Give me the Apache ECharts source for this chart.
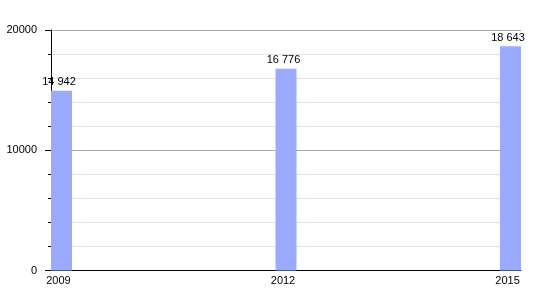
<!DOCTYPE html>
<html>
<head>
<meta charset="utf-8">
<script src="https://cdn.jsdelivr.net/npm/echarts@6/dist/echarts.min.js"></script>
<style>
html,body{margin:0;padding:0;background:#fff;}
#c{width:550px;height:300px;}
</style>
</head>
<body>
<div id="c"></div>
<script>
const years = [2009, 2012, 2015];
const values = [14942, 16776, 18643];
const yTicks = [0, 10000, 20000];

const chart = echarts.init(document.getElementById('c'), null, {renderer: 'canvas'});
const fmt = v => String(v).replace(/\B(?=(\d{3})+(?!\d))/g, '\u00a0');
const font = 'Liberation Sans, Arial, sans-serif';

chart.setOption({
  animation: false,
  grid: {left: 51, right: 29, top: 30, bottom: 29.5, containLabel: false},
  xAxis: {
    type: 'value',
    min: 2008.86,
    max: 2015.14,
    axisLine: {show: true, lineStyle: {color: '#000', width: 1}},
    axisTick: {show: false},
    splitLine: {show: false},
    axisLabel: {
      customValues: years,
      formatter: v => String(v),
      color: '#000',
      fontFamily: font,
      fontSize: 11,
      margin: 5,
      padding: [0, 6, 0, 0]
    }
  },
  yAxis: {
    type: 'value',
    min: 0,
    max: 20000,
    interval: 10000,
    axisLine: {show: true, lineStyle: {color: '#000', width: 1}},
    axisTick: {show: true, inside: false, length: 6, lineStyle: {color: '#000'}},
    minorTick: {show: true, splitNumber: 5, length: 3, lineStyle: {color: '#000'}},
    splitLine: {show: true, lineStyle: {color: '#aaaaaa', width: 1}},
    minorSplitLine: {show: true, lineStyle: {color: '#e2e2e2', width: 1}},
    axisLabel: {
      formatter: v => String(v),
      color: '#000',
      fontFamily: font,
      fontSize: 11,
      margin: 14
    }
  },
  series: [{
    type: 'bar',
    data: years.map((y, i) => [y, values[i]]),
    barWidth: 21,
    itemStyle: {color: '#9aabff'},
    label: {
      show: true,
      position: 'top',
      distance: 3,
      formatter: p => fmt(p.value[1]),
      color: '#000',
      fontFamily: font,
      fontSize: 11,
      padding: [0, 5, 0, 0]
    }
  }]
});
</script>
</body>
</html>
